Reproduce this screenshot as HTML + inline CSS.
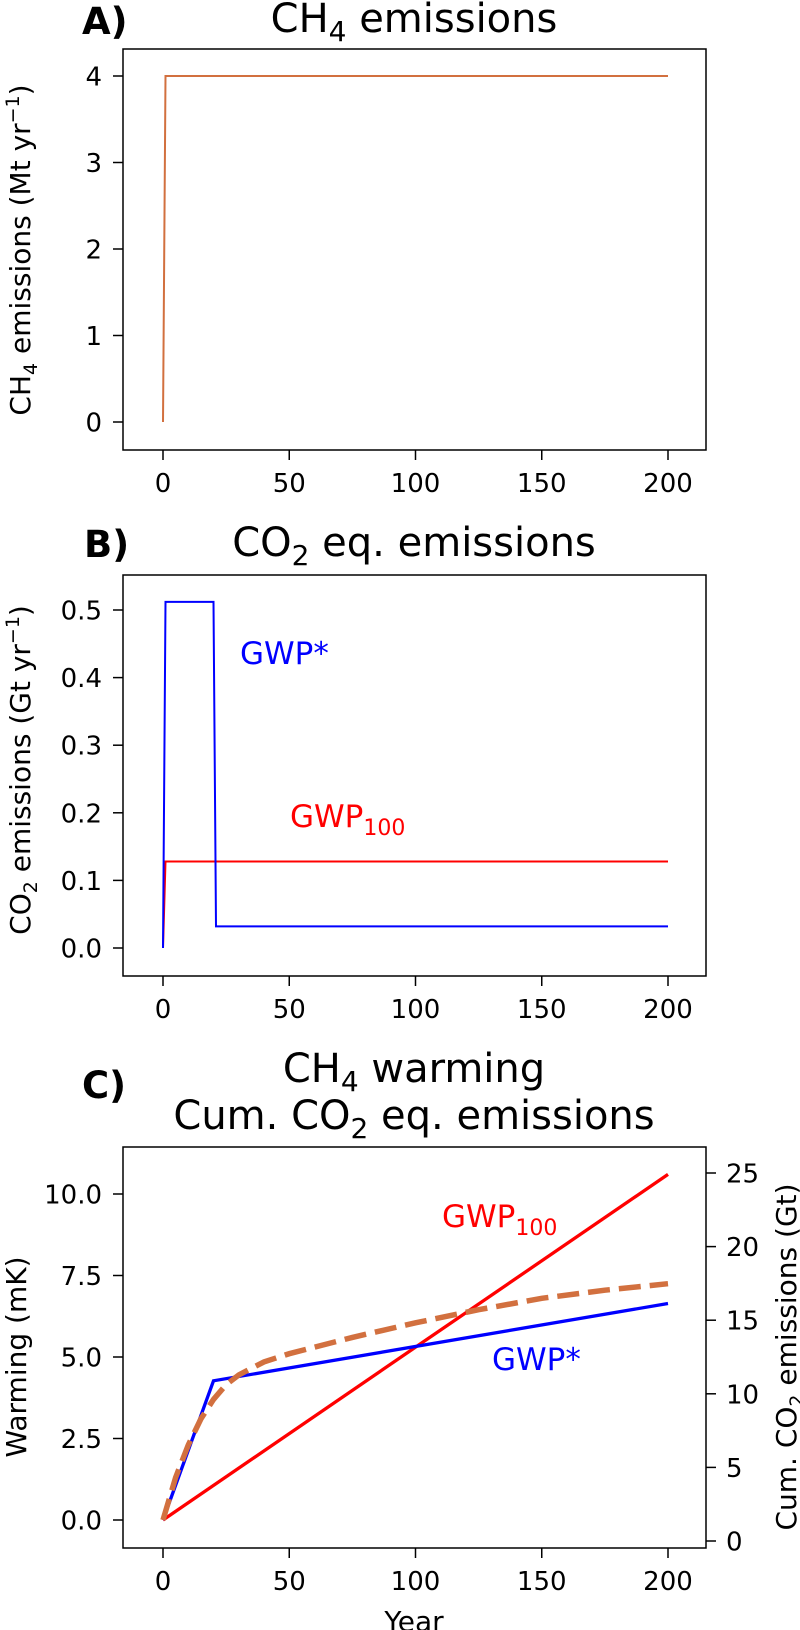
<!DOCTYPE html>
<html><head><meta charset="utf-8"><style>
body{margin:0;background:#fff}
svg{display:block;font-family:"DejaVu Sans","Liberation Sans",sans-serif}
</style></head><body>
<svg id="fig" width="800" height="1630" viewBox="0 0 800 1630"></svg>
<script>
const years = [0, 50, 100, 150, 200];
const ch4X = [0, 1, 200];
const ch4Y = [0, 4, 4];
const aTicks = [0, 1, 2, 3, 4];
const starX = [0, 1, 20, 21, 200];
const starY = [0, 0.512, 0.512, 0.032, 0.032];
const g100X = [0, 1, 200];
const g100Y = [0, 0.128, 0.128];
const bTicks = ["0.0", "0.1", "0.2", "0.3", "0.4", "0.5"];
const cumStarX = [0, 20, 200];
const cumStarY = [0, 4.27, 6.64];
const cum100X = [0, 200];
const cum100Y = [0, 10.6];
const warmX = [0, 5, 10, 15, 20, 25, 30, 40, 50, 75, 100, 125, 150, 175, 200];
const warmY = [0, 1.3, 2.3, 3.1, 3.7, 4.15, 4.45, 4.85, 5.1, 5.6, 6.05, 6.45, 6.8, 7.05, 7.25];
const cLeftTicks = ["0.0", "2.5", "5.0", "7.5", "10.0"];
const cRightTicks = [0, 5, 10, 15, 20, 25];

const NS = "http://www.w3.org/2000/svg";
const svg = document.getElementById("fig");
const TICK = 26, TITLE = 40, LBL = 28, ANN = 31;
function el(tag, attrs, parent, text) {
  const e = document.createElementNS(NS, tag);
  for (const k in attrs) e.setAttribute(k, attrs[k]);
  if (text !== undefined) e.textContent = text;
  (parent || svg).appendChild(e);
  return e;
}
const sx = v => 163 + v * 2.525;

function panel(name, top, bottom, y0px, yPerUnit) {
  const g = el("g", {});
  
  
  const box = el("rect", {x: 123, y: top, width: 583, height: bottom - top, fill: "none", stroke: "#000", "stroke-width": 1.5}, g);
  
  
  years.forEach(v => {
    const t = el("line", {x1: sx(v), x2: sx(v), y1: bottom, y2: bottom + 10, stroke: "#000", "stroke-width": 1.5}, g);
    
    
    const l = el("text", {x: sx(v), y: bottom + 42, "font-size": TICK, "text-anchor": "middle"}, g, String(v));
    
    
  });
  return {g, sy: v => y0px - v * yPerUnit};
}
function yTicks(p, ticks, g) {
  ticks.forEach(t => {
    const v = parseFloat(t), y = p.sy(v);
    const tk = el("line", {x1: 113, x2: 123, y1: y, y2: y, stroke: "#000", "stroke-width": 1.5}, g);
    
    
    const l = el("text", {x: 102, y: y + 9.5, "font-size": TICK, "text-anchor": "end"}, g, String(t));
    
    
  });
}
function line(g, xs, ys, sy, color, w, name, dash) {
  const pts = xs.map((x, i) => sx(x).toFixed(1) + "," + sy(ys[i]).toFixed(1)).join(" ");
  const a = {points: pts, fill: "none", stroke: color, "stroke-width": w, "stroke-linejoin": "miter"};
  if (dash) a["stroke-dasharray"] = dash;
  const p = el("polyline", a, g);
  
  
}
function title(x, y, parts, size, name) {
  const t = el("text", {x: x, y: y, "font-size": size, "text-anchor": "middle"});
  
  
  t.innerHTML = parts;
  return t;
}
const sub = (s) => '<tspan font-size="28" dy="9">' + s + '</tspan><tspan dy="-9">';
const lsub = (s) => '<tspan font-size="19" dy="7">' + s + '</tspan><tspan dy="-7">';

// Panel A
const A = panel("panel-a-ch4-emissions", 49, 450, 422, 86.5);
yTicks(A, aTicks, A.g);
line(A.g, ch4X, ch4Y, A.sy, "#d2703f", 2, "ch4-emissions-line");
title(414, 32, 'CH' + sub('4') + ' emissions</tspan>', TITLE, "panel-a-title");
const la = el("text", {x: 82, y: 34, "font-size": 37, "font-weight": "bold"}, svg, "A)");
 
const ya = el("text", {transform: "translate(30,250) rotate(-90)", "font-size": LBL, "text-anchor": "middle"});
 
ya.innerHTML = 'CH' + lsub('4') + ' emissions (Mt yr</tspan><tspan font-size="19" dy="-11">−1</tspan><tspan dy="11">)</tspan>';

// Panel B
const B = panel("panel-b-co2eq-emissions", 575, 976, 948, 676);
yTicks(B, bTicks, B.g);
line(B.g, g100X, g100Y, B.sy, "#ff0000", 2, "gwp100-emissions-line");
line(B.g, starX, starY, B.sy, "#0000ff", 2, "gwpstar-emissions-line");
title(414, 556, 'CO' + sub('2') + ' eq. emissions</tspan>', TITLE, "panel-b-title");
const lb = el("text", {x: 84, y: 557, "font-size": 37, "font-weight": "bold"}, svg, "B)");
 
const yb = el("text", {transform: "translate(30,770) rotate(-90)", "font-size": LBL, "text-anchor": "middle"});
 
yb.innerHTML = 'CO' + lsub('2') + ' emissions (Gt yr</tspan><tspan font-size="19" dy="-11">−1</tspan><tspan dy="11">)</tspan>';
const gs = el("text", {x: 240, y: 664, "font-size": ANN, fill: "#0000ff"}, svg, "GWP*");
 
const g1 = el("text", {x: 290, y: 827, "font-size": ANN, fill: "#ff0000"});
 
g1.innerHTML = 'GWP<tspan font-size="22" dy="8">100</tspan>';

// Panel C
const C = panel("panel-c-warming", 1147, 1548, 1520, 32.6);
yTicks(C, cLeftTicks, C.g);
const syR = v => 1541 - v * 14.72;
cRightTicks.forEach(v => {
  const y = syR(v);
  const tk = el("line", {x1: 706, x2: 716, y1: y, y2: y, stroke: "#000", "stroke-width": 1.5}, C.g);
  
  
  const l = el("text", {x: 726, y: y + 9.5, "font-size": TICK}, C.g, String(v));
  
  
});
line(C.g, cum100X, cum100Y, C.sy, "#ff0000", 3.3, "gwp100-cumulative-line");
line(C.g, cumStarX, cumStarY, C.sy, "#0000ff", 3.3, "gwpstar-cumulative-line");
line(C.g, warmX, warmY, C.sy, "#d2703f", 5.5, "ch4-warming-line", "22,9");
title(414, 1082, 'CH' + sub('4') + ' warming</tspan>', TITLE, "panel-c-title-line1");
title(414, 1129, 'Cum. CO' + sub('2') + ' eq. emissions</tspan>', TITLE, "panel-c-title-line2");
const lc = el("text", {x: 82, y: 1098, "font-size": 37, "font-weight": "bold"}, svg, "C)");
 
const yc = el("text", {transform: "translate(26,1357) rotate(-90)", "font-size": LBL, "text-anchor": "middle"}, svg, "Warming (mK)");
 
const yr = el("text", {transform: "translate(796,1357) rotate(-90)", "font-size": LBL, "text-anchor": "middle"});
 
yr.innerHTML = 'Cum. CO' + lsub('2') + ' emissions (Gt)</tspan>';
const xc = el("text", {x: 414, y: 1631, "font-size": LBL, "text-anchor": "middle"}, svg, "Year");
 
const c1 = el("text", {x: 442, y: 1227, "font-size": ANN, fill: "#ff0000"});
 
c1.innerHTML = 'GWP<tspan font-size="22" dy="8">100</tspan>';
const c2 = el("text", {x: 492, y: 1370, "font-size": ANN, fill: "#0000ff"}, svg, "GWP*");
 
</script>
</body></html>
